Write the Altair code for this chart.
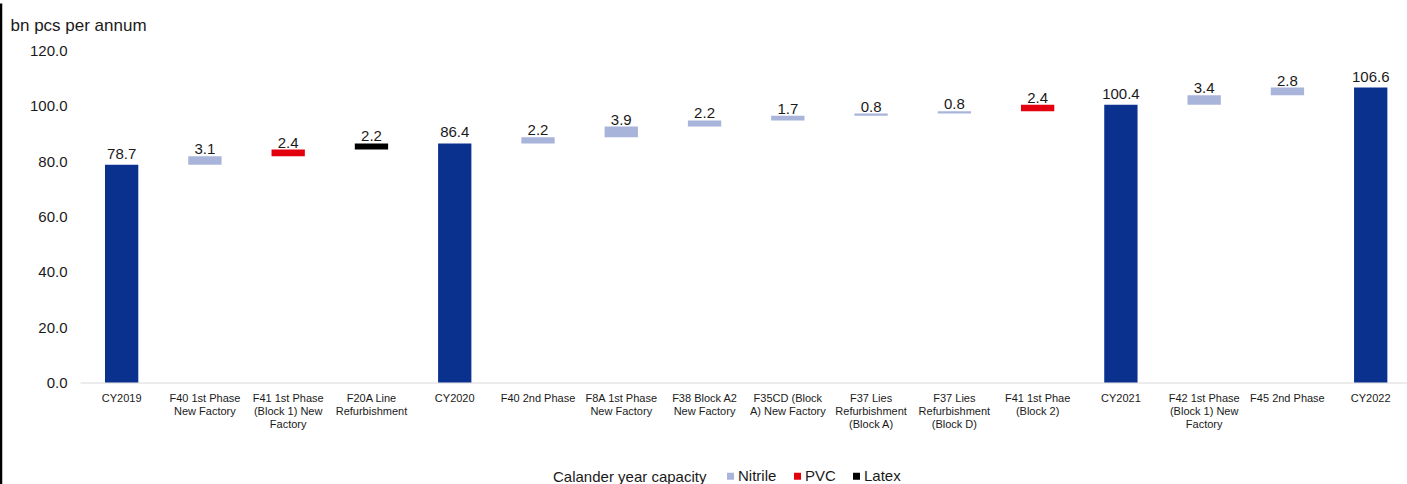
import altair as alt
import pandas as pd

# ---- data ----
categories = [
    "CY2019",
    "F40 1st Phase|New Factory",
    "F41 1st Phase|(Block 1) New|Factory",
    "F20A Line|Refurbishment",
    "CY2020",
    "F40 2nd Phase",
    "F8A 1st Phase|New Factory",
    "F38 Block A2|New Factory",
    "F35CD (Block|A) New Factory",
    "F37 Lies|Refurbishment|(Block A)",
    "F37 Lies|Refurbishment|(Block D)",
    "F41 1st Phae|(Block 2)",
    "CY2021",
    "F42 1st Phase|(Block 1) New|Factory",
    "F45 2nd Phase",
    "CY2022",
]
values = [78.7, 3.1, 2.4, 2.2, 86.4, 2.2, 3.9, 2.2, 1.7, 0.8, 0.8, 2.4, 100.4, 3.4, 2.8, 106.6]
kinds = [
    "Calander year capacity", "Nitrile", "PVC", "Latex",
    "Calander year capacity", "Nitrile", "Nitrile", "Nitrile", "Nitrile", "Nitrile", "Nitrile", "PVC",
    "Calander year capacity", "Nitrile", "Nitrile",
    "Calander year capacity",
]
legend_order = ["Calander year capacity", "Nitrile", "PVC", "Latex"]
legend_colors = ["#0B318F", "#A8B4DA", "#E3000F", "#000000"]

# waterfall start / end computed from the values
starts, ends = [], []
running = 0.0
for v, k in zip(values, kinds):
    if k == "Calander year capacity":
        starts.append(0.0)
        ends.append(v)
        running = v
    else:
        starts.append(running)
        running = round(running + v, 1)
        ends.append(running)

df = pd.DataFrame({
    "category": categories,
    "value": values,
    "kind": kinds,
    "start": starts,
    "end": ends,
    "total": [k == "Calander year capacity" for k in kinds],
})

FONT = "Liberation Sans"

x_enc = alt.X(
    "category:N",
    sort=categories,
    scale=alt.Scale(paddingInner=0.6, paddingOuter=0.268, align=0.56),
    axis=alt.Axis(
        title=None,
        labelAngle=0,
        labelExpr="split(datum.label, '|')",
        labelFont=FONT,
        labelFontSize=11,
        labelColor="#1a1a1a",
        labelLineHeight=13,
        labelPadding=10,
        labelBaseline="top",
        ticks=False,
        tickSize=0,
        domainColor="#D9D9D9",
        domainWidth=1.2,
        labelLimit=200,
    ),
)

y_enc = alt.Y(
    "start:Q",
    scale=alt.Scale(domain=[0, 120], nice=False, zero=True),
    axis=alt.Axis(
        values=[0, 20, 40, 60, 80, 100, 120],
        format=".1f",
        grid=False,
        domain=False,
        ticks=False,
        tickSize=0,
        labelFont=FONT,
        labelFontSize=15,
        labelColor="#1a1a1a",
        labelPadding=13,
        title="bn pcs per annum",
        titleAngle=0,
        titleAlign="left",
        titleBaseline="alphabetic",
        titleX=-70,
        titleY=-20,
        titleFont=FONT,
        titleFontSize=17,
        titleFontWeight="normal",
        titleColor="#1a1a1a",
    ),
)

bars = alt.Chart(df).mark_bar().encode(
    x=x_enc,
    y=y_enc,
    y2="end:Q",
    color=alt.Color(
        "kind:N",
        scale=alt.Scale(domain=legend_order, range=legend_colors),
        legend=alt.Legend(
            values=["Nitrile", "PVC", "Latex"],
            title="Calander year capacity",
            titleOrient="left",
            titleBaseline="middle",
            titleFont=FONT,
            titleFontSize=15,
            titleFontWeight="normal",
            titleColor="#1a1a1a",
            titlePadding=16,
            labelFont=FONT,
            labelFontSize=15,
            labelColor="#1a1a1a",
            labelOffset=0,
            columnPadding=13,
            symbolType="square",
            symbolSize=49,
            symbolStrokeWidth=0,
            direction="horizontal",
            orient="none",
            legendX=473,
            legendY=418,
            padding=0,
        ),
    ),
)

labels_total = alt.Chart(df).transform_filter("datum.total").mark_text(
    baseline="alphabetic", dy=-6, font=FONT, fontSize=15, color="#1a1a1a"
).encode(
    x=alt.X("category:N", sort=categories),
    y=alt.Y("end:Q"),
    text=alt.Text("value:Q", format=".1f"),
)

labels_step = alt.Chart(df).transform_filter("!datum.total").mark_text(
    baseline="alphabetic", dy=-2, font=FONT, fontSize=15, color="#1a1a1a"
).encode(
    x=alt.X("category:N", sort=categories),
    y=alt.Y("end:Q"),
    text=alt.Text("value:Q", format=".1f"),
)

frame_line = alt.Chart(alt.Data(values=[{}])).mark_rule(color="#000000", strokeWidth=2.5).encode(
    x=alt.value(-79),
    y=alt.value(-47),
    y2=alt.value(434),
)

chart = alt.layer(bars, labels_total, labels_step, frame_line).properties(
    width=1327,
    height=332,
    autosize=alt.AutoSizeParams(type="none"),
    padding={"left": 80, "top": 50.5, "right": 0, "bottom": 101.5},
    background="white",
).configure_view(stroke=None)

chart.save("out.html", embed_options={"renderer": "svg", "actions": False})
